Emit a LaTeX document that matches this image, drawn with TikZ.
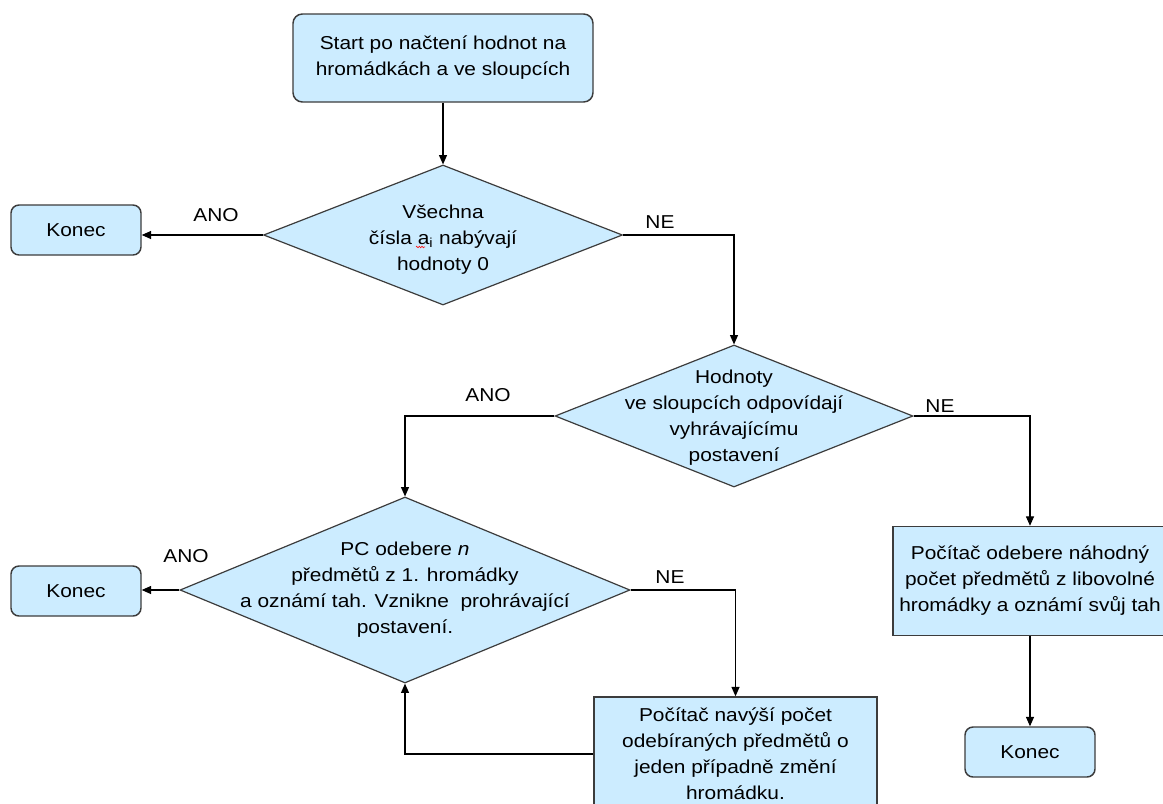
\documentclass[tikz,border=0pt]{standalone}
\usepackage{fontspec}
\setmainfont[FakeStretch=1.12]{Liberation Sans}
\usetikzlibrary{shapes.geometric,arrows.meta,decorations.pathmorphing}
\definecolor{boxblue}{RGB}{204,236,255}
\definecolor{edgegray}{RGB}{60,60,60}
\begin{document}
\begin{tikzpicture}[x=0.75pt,y=-0.75pt,
  font=\fontsize{14}{19.5}\selectfont,
  box/.style={draw=edgegray, line width=1.1pt, fill=boxblue, align=center, inner sep=0pt},
  rbox/.style={box, rounded corners=7pt},
  dia/.style={diamond, draw=edgegray, line width=0.9pt, fill=boxblue, inner sep=0pt},
  txt/.style={align=center, inner sep=0pt},
  arr/.style={-{Triangle[length=7pt,width=6pt]}, line width=0.8pt},
  lbl/.style={inner sep=0pt}]
\useasboundingbox (0,0) rectangle (1163,803);
\clip (0,0) rectangle (1163,803);
\node[rbox, minimum width=225pt, minimum height=66pt] (start) at (443,58) {Start po načtení hodnot na\\hromádkách a ve sloupcích};
\node[dia, minimum width=269.25pt, minimum height=105pt] (d1) at (443,235) {};
\node[txt] (t1) at (443,240) {Všechna\\čísla a\textsubscript{i} nabývají\\hodnoty 0};
\node[rbox, rounded corners=6pt, minimum width=97.5pt, minimum height=37.5pt] (k1) at (76,230) {Konec};
\node[dia, minimum width=268.5pt, minimum height=106.5pt] (d2) at (734,416) {};
\node[txt] (t2) at (734,418) {Hodnoty\\ve sloupcích odpovídají\\vyhrávajícímu\\postavení};
\node[dia, minimum width=337.5pt, minimum height=139.5pt] (d3) at (405,590) {};
\node[txt] (t3) at (405,590) {PC odebere \textit{n}\\předmětů z 1. hromádky\\a oznámí tah. Vznikne\ \ prohrávající\\postavení.};
\node[rbox, rounded corners=6pt, minimum width=97.5pt, minimum height=37.5pt] (k2) at (76,591) {Konec};
\node[box, minimum width=205.5pt, minimum height=81.75pt] (r1) at (1030,581) {Počítač odebere náhodný\\počet předmětů z libovolné\\hromádky a oznámí svůj tah};
\node[rbox, rounded corners=6pt, minimum width=97.5pt, minimum height=37.5pt] (k3) at (1030,752) {Konec};
\node[box, minimum width=212.25pt, minimum height=85.5pt] (b) at (735.5,754) {Počítač navýší počet\\odebíraných předmětů o\\jeden případně změní\\hromádku.};
\draw[red, line width=0.4pt, decorate, decoration={zigzag, amplitude=0.6pt, segment length=2pt}] (416,247) -- (425,247);
\draw[arr] (start.south) -- (d1.north);
\draw[arr] (d1.west) -- (d1.west -| k1.east);
\node[lbl] (l1) at (216,215) {ANO};
\draw[arr] (d1.east) -| (d2.north);
\node[lbl] (l2) at (660,222) {NE};
\draw[arr] (d2.west) -| (d3.north);
\node[lbl] (l3) at (488,395) {ANO};
\draw[arr] (d2.east) -| (r1.north);
\node[lbl] (l4) at (940,406) {NE};
\draw[arr] (r1.south) -- (k3.north);
\draw[arr] (d3.west) -- (d3.west -| k2.east);
\node[lbl] (l5) at (186,556) {ANO};
\draw[arr] (d3.east) -| (b.north);
\node[lbl] (l6) at (670,577) {NE};
\draw[arr] (b.west) -| (d3.south);
\end{tikzpicture}
\end{document}
